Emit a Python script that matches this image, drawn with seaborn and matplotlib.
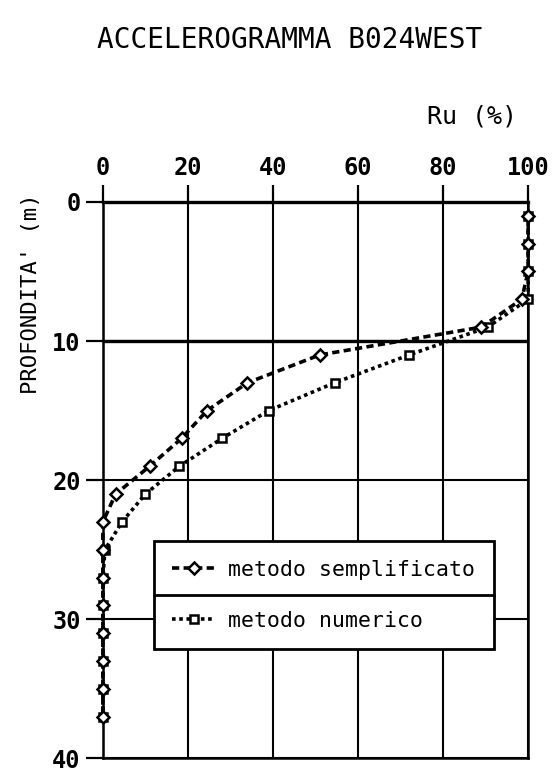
import matplotlib
matplotlib.use("Agg")
import matplotlib.pyplot as plt
import seaborn as sns
import pandas as pd

# Pore-pressure ratio Ru (%) versus depth for the two computation methods
depth_m = [1, 3, 5, 7, 9, 11, 13, 15, 17, 19, 21, 23, 25, 27, 29, 31, 33, 35, 37]
ru_semplificato = [100, 100, 100, 98.5, 89, 51, 34, 24.5, 18.5, 11, 3, 0,
                   0, 0, 0, 0, 0, 0, 0]
ru_numerico = [100, 100, 100, 100, 90.5, 72, 54.5, 39, 28, 18, 10, 4.5,
               0.5, 0, 0, 0, 0, 0, 0]

x_ticks = [0, 20, 40, 60, 80, 100]
y_ticks = [0, 10, 20, 30, 40]

title = "ACCELEROGRAMMA B024WEST"
x_label = "Ru (%)"
y_label = "PROFONDITA' (m)"
label_semplificato = "metodo semplificato"
label_numerico = "metodo numerico"

df_s = pd.DataFrame({"ru": ru_semplificato, "depth": depth_m})
df_n = pd.DataFrame({"ru": ru_numerico, "depth": depth_m})

sns.set_style("white")
plt.rcParams["font.family"] = ["DejaVu Sans Mono", "DejaVu Sans"]
plt.rcParams["text.color"] = "black"
plt.rcParams["axes.labelcolor"] = "black"
plt.rcParams["xtick.color"] = "black"
plt.rcParams["ytick.color"] = "black"

fig = plt.figure(figsize=(5.53, 7.72), dpi=100)
ax = fig.add_axes([0.186, 0.0175, 0.769, 0.721])

sns.lineplot(data=df_n, x="ru", y="depth", estimator=None, sort=False,
             color="black", lw=2.6, linestyle=(0, (1, 1)),
             marker="s", markersize=6, markerfacecolor="white",
             markeredgecolor="black", markeredgewidth=1.8,
             label=label_numerico, ax=ax, zorder=3, clip_on=False)
sns.lineplot(data=df_s, x="ru", y="depth", estimator=None, sort=False,
             color="black", lw=2.6, linestyle=(0, (2, 1.2)),
             marker="D", markersize=6.5, markerfacecolor="white",
             markeredgecolor="black", markeredgewidth=1.8,
             label=label_semplificato, ax=ax, zorder=4, clip_on=False)

ax.set_xlim(0, 100)
ax.set_ylim(40, 0)
ax.set_xticks(x_ticks)
ax.set_yticks(y_ticks)
ax.xaxis.tick_top()
ax.tick_params(axis="both", direction="out", length=12, width=1.6,
               color="black", labelsize=17, pad=4)
for lab in ax.get_xticklabels() + ax.get_yticklabels():
    lab.set_fontweight("bold")
ax.tick_params(axis="y", left=True, right=False)
ax.tick_params(axis="x", top=True, bottom=False)

ax.grid(True, color="black", lw=1.5)
ax.set_axisbelow(True)
for side in ["left", "right", "top", "bottom"]:
    ax.spines[side].set_visible(True)
    ax.spines[side].set_color("black")
    ax.spines[side].set_linewidth(1.8)
ax.spines["top"].set_linewidth(2.4)
ax.axhline(10, color="black", lw=2.4, zorder=1)

ax.set_xlabel(x_label, fontsize=18)
ax.xaxis.set_label_position("top")
ax.xaxis.set_label_coords(0.868, 1.141)
ax.set_ylabel(y_label, fontsize=16)
ax.yaxis.set_label_coords(-0.145, 0.835)

fig.text(0.524, 0.948, title, ha="center", va="center", fontsize=20)

# legend: "semplificato" row first, opaque white box over the grid
handles, labels = ax.get_legend_handles_labels()
order = [labels.index(label_semplificato), labels.index(label_numerico)]
leg = ax.legend([handles[i] for i in order], [labels[i] for i in order],
                loc="upper left", bbox_to_anchor=(0.12, 0.19, 0.80, 0.2),
                mode="expand", fontsize=15.5, handlelength=2.0,
                handletextpad=0.6, borderpad=0.85, labelspacing=1.45,
                fancybox=False, framealpha=1, edgecolor="black",
                borderaxespad=0)
leg.get_frame().set_linewidth(2)
leg.set_zorder(10)

# divider between the two legend rows
fig.canvas.draw()
bb = leg.get_window_extent().transformed(ax.transAxes.inverted())
ymid = (bb.y0 + bb.y1) / 2
ax.plot([bb.x0, bb.x1], [ymid, ymid], transform=ax.transAxes,
        color="black", lw=2, zorder=11, clip_on=False)

fig.savefig("out.png", dpi=100, facecolor="white")
